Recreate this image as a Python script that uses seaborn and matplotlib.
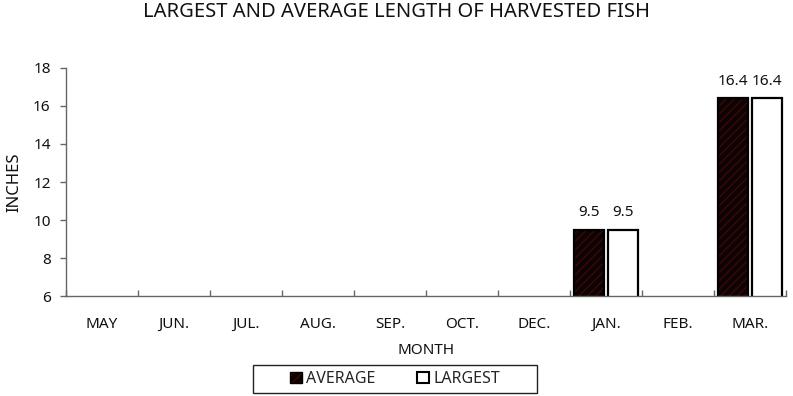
import numpy as np
import pandas as pd
import matplotlib
matplotlib.use("Agg")
import matplotlib.pyplot as plt
from matplotlib.colors import to_rgba
from matplotlib.patches import Patch, Rectangle
import seaborn as sns

months = ["MAY", "JUN.", "JUL.", "AUG.", "SEP.", "OCT.", "DEC.", "JAN.", "FEB.", "MAR."]
average = [np.nan, np.nan, np.nan, np.nan, np.nan, np.nan, np.nan, 9.5, np.nan, 16.4]
largest = [np.nan, np.nan, np.nan, np.nan, np.nan, np.nan, np.nan, 9.5, np.nan, 16.4]
series = ["AVERAGE", "LARGEST"]
y_ticks = [6, 8, 10, 12, 14, 16, 18]

sns.set_theme(style="white")
plt.rcParams["font.family"] = ["Noto Sans", "DejaVu Sans"]
plt.rcParams["hatch.linewidth"] = 1.0

df = pd.DataFrame({
    "month": months * 2,
    "series": [series[0]] * len(months) + [series[1]] * len(months),
    "value": average + largest,
})

fig = plt.figure(figsize=(7.93, 3.96), dpi=100)
ax = fig.add_axes([0.0832, 0.2525, 0.9078, 0.5758])

fill_colors = {"AVERAGE": "#100101", "LARGEST": "#ffffff"}
hatch_rgba = to_rgba("#3c0707")
sns.barplot(data=df, x="month", y="value", hue="series", order=months,
            hue_order=series, palette=fill_colors, width=0.94, gap=0.11,
            edgecolor="black", linewidth=1.6, errorbar=None, legend=False, ax=ax)

for container, name in zip(ax.containers, series):
    for bar in container:
        if name == "AVERAGE":
            bar.set_hatch("////")
            bar._hatch_color = hatch_rgba
    labels = ["" if not np.isfinite(v) else f"{v:g}" for v in container.datavalues]
    ax.bar_label(container, labels=labels, padding=7, fontsize=11, color="#111111")

ax.set_ylim(6, 18)
ax.set_yticks(y_ticks)
ax.set_xlim(-0.5, len(months) - 0.5)

for side in ["top", "right"]:
    ax.spines[side].set_visible(False)
for side in ["left", "bottom"]:
    ax.spines[side].set_color("#666666")
    ax.spines[side].set_linewidth(1.0)

ax.tick_params(axis="y", which="major", left=True, length=4, width=1,
               color="#666666", labelsize=11, pad=7, labelcolor="#111111")
ax.tick_params(axis="x", which="major", bottom=False, length=0, labelsize=11,
               pad=15, labelcolor="#111111")
ax.set_xticks(np.arange(-0.5, len(months)), minor=True)
ax.tick_params(axis="x", which="minor", bottom=True, direction="in", length=4,
               width=1, color="#666666")

ax.set_xlabel("MONTH", fontsize=11, labelpad=8, color="#111111")
ax.set_ylabel("INCHES", fontsize=12, labelpad=8, color="#111111")
fig.suptitle("LARGEST AND AVERAGE LENGTH OF HARVESTED FISH", x=0.5, y=0.994,
             fontsize=14.5, color="#111111")

handles = [
    Patch(facecolor=fill_colors["AVERAGE"], edgecolor="black", hatch="////", label="AVERAGE"),
    Patch(facecolor=fill_colors["LARGEST"], edgecolor="black", linewidth=1.5, label="LARGEST"),
]
handles[0]._hatch_color = hatch_rgba
leg = fig.legend(handles=handles, loc="center", bbox_to_anchor=(0.498, 0.043), ncol=2,
                 fontsize=11.5, frameon=False, handlelength=0.75, handleheight=0.75,
                 handletextpad=0.25, columnspacing=2.6, borderpad=0.2, borderaxespad=0)

# Frame around the legend with generous side padding
fig.canvas.draw()
bb = leg.get_window_extent().transformed(fig.transFigure.inverted())
pad_x, pad_y = 34 / 793, 3 / 396
frame = Rectangle((bb.x0 - pad_x, bb.y0 - pad_y), bb.width + 2 * pad_x, bb.height + 2 * pad_y,
                  transform=fig.transFigure, facecolor="none", edgecolor="#222222",
                  linewidth=1.0, clip_on=False)
fig.add_artist(frame)

fig.savefig("out.png", dpi=100)
